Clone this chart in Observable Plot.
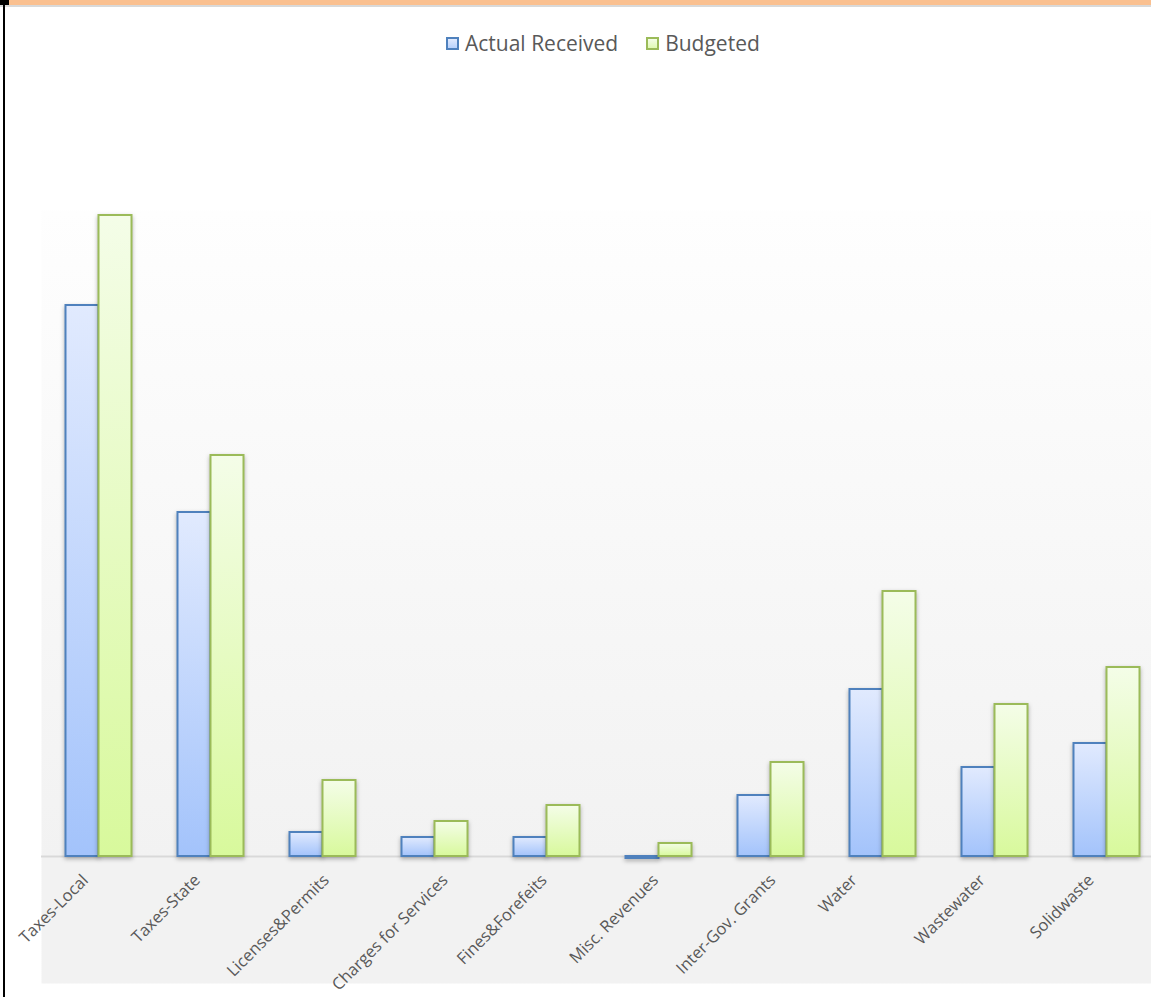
<!DOCTYPE html>
<html>
<head>
<meta charset="utf-8">
<script src="https://cdn.jsdelivr.net/npm/d3@7"></script>
<script src="https://cdn.jsdelivr.net/npm/@observablehq/plot@0.6"></script>
<style>
  html, body { margin: 0; padding: 0; background: #ffffff; }
  #page { position: relative; width: 1151px; height: 997px; overflow: hidden; background: #ffffff; font-family: "Open Sans", sans-serif; }
  #band { position: absolute; left: 0; top: 0; width: 1151px; height: 5px; background: #fac090; }
  #bandEdge { position: absolute; left: 0; top: 5px; width: 1151px; height: 1.5px; background: #d9d9d9; }
  #corner { position: absolute; left: 0; top: 0; width: 9px; height: 5px; background: #000; }
  #leftRule { position: absolute; left: 3px; top: 5px; width: 1.5px; height: 992px; background: #000; }
  #chart { position: absolute; left: 0; top: 0; }
  #legend { position: absolute; top: 29px; left: 446px; display: flex; align-items: center; color: #595959; font-size: 21px; z-index: 2; }
  .item { display: flex; align-items: center; }
  .swatch { width: 9px; height: 9px; border: 2px solid; margin-right: 6px; }
  svg g[aria-label="bar"] { filter: drop-shadow(0px 2px 2px rgba(0,0,0,0.3)); }
</style>
</head>
<body>
<div id="page">
  <div id="chart"></div>
  <div id="band"></div>
  <div id="bandEdge"></div>
  <div id="corner"></div>
  <div id="leftRule"></div>
  <div id="legend"></div>
</div>
<script>
// Revenue categories and the two series (same units throughout)
const categories = [
  "Taxes-Local", "Taxes-State", "Licenses&Permits", "Charges for Services",
  "Fines&Forefeits", "Misc. Revenues", "Inter-Gov. Grants", "Water",
  "Wastewater", "Solidwaste"
];
const actualReceived = [551, 344, 24, 19, 19, -2, 61, 167, 89, 113];
const budgeted = [641, 401, 76, 35, 51, 13, 94, 265, 152, 189];
const seriesNames = ["Actual Received", "Budgeted"];

const rows = categories.map((category, i) => ({
  category,
  actual: actualReceived[i],
  budgeted: budgeted[i]
}));

// Width of each category label, used to centre the slanted labels
const labelSize = 16.5;
const ctx = document.createElement("canvas").getContext("2d");
ctx.font = `${labelSize}px 'Open Sans'`;
const labelMarks = categories.map(c => {
  const len = ctx.measureText(c).width;
  return Plot.text([c], {
    x: d => d,
    y: () => 0,
    text: d => d,
    rotate: -45,
    textAnchor: "end",
    fontSize: labelSize,
    fill: "#595959",
    dx: -45 + 0.354 * len,
    dy: 21
  });
});

const chart = Plot.plot({
  width: 1151,
  height: 997,
  marginLeft: 41,
  marginRight: 0,
  marginTop: 210,
  marginBottom: 14,
  style: { fontFamily: "'Open Sans', sans-serif", background: "transparent", overflow: "visible" },
  x: {
    type: "band",
    domain: categories,
    range: [41, 1163],
    paddingInner: 0.706,
    paddingOuter: 0.353,
    axis: null
  },
  y: { domain: [0, 641], range: [856, 215], axis: null },
  marks: [
    Plot.frame({ fill: "url(#plotBg)", stroke: null }),
    Plot.ruleY([0], { stroke: "#d9d9d9", strokeWidth: 2 }),
    Plot.barY(rows, {
      x: "category", y: "actual", dx: -16.5,
      fill: "url(#blueGrad)", stroke: "#4f81bd", strokeWidth: 2
    }),
    Plot.barY(rows, {
      x: "category", y: "budgeted", dx: 16.5,
      fill: "url(#greenGrad)", stroke: "#9bbb59", strokeWidth: 2
    }),
    ...labelMarks
  ]
});

d3.select(chart).insert("defs", ":first-child").html(`
  <linearGradient id="plotBg" x1="0" y1="0" x2="0" y2="1">
    <stop offset="0" stop-color="#fefefe"/>
    <stop offset="0.836" stop-color="#f2f2f2"/>
    <stop offset="1" stop-color="#f2f2f2"/>
  </linearGradient>
  <linearGradient id="blueGrad" x1="0" y1="0" x2="0" y2="1">
    <stop offset="0" stop-color="#e1eafe"/>
    <stop offset="1" stop-color="#a3c3fb"/>
  </linearGradient>
  <linearGradient id="greenGrad" x1="0" y1="0" x2="0" y2="1">
    <stop offset="0" stop-color="#f4fde8"/>
    <stop offset="1" stop-color="#d8f99c"/>
  </linearGradient>
`);

document.getElementById("chart").appendChild(chart);

// Legend
const legendColors = [
  { stroke: "#4f81bd", fill: "linear-gradient(#e1eafe, #b9d2fc)" },
  { stroke: "#9bbb59", fill: "linear-gradient(#f4fde8, #e0fab3)" }
];
const legend = d3.select("#legend");
seriesNames.forEach((name, i) => {
  const item = legend.append("div").attr("class", "item")
    .style("margin-right", i === 0 ? "28px" : "0px");
  item.append("div").attr("class", "swatch")
    .style("border-color", legendColors[i].stroke)
    .style("background", legendColors[i].fill);
  item.append("span").text(name);
});
</script>
</body>
</html>
